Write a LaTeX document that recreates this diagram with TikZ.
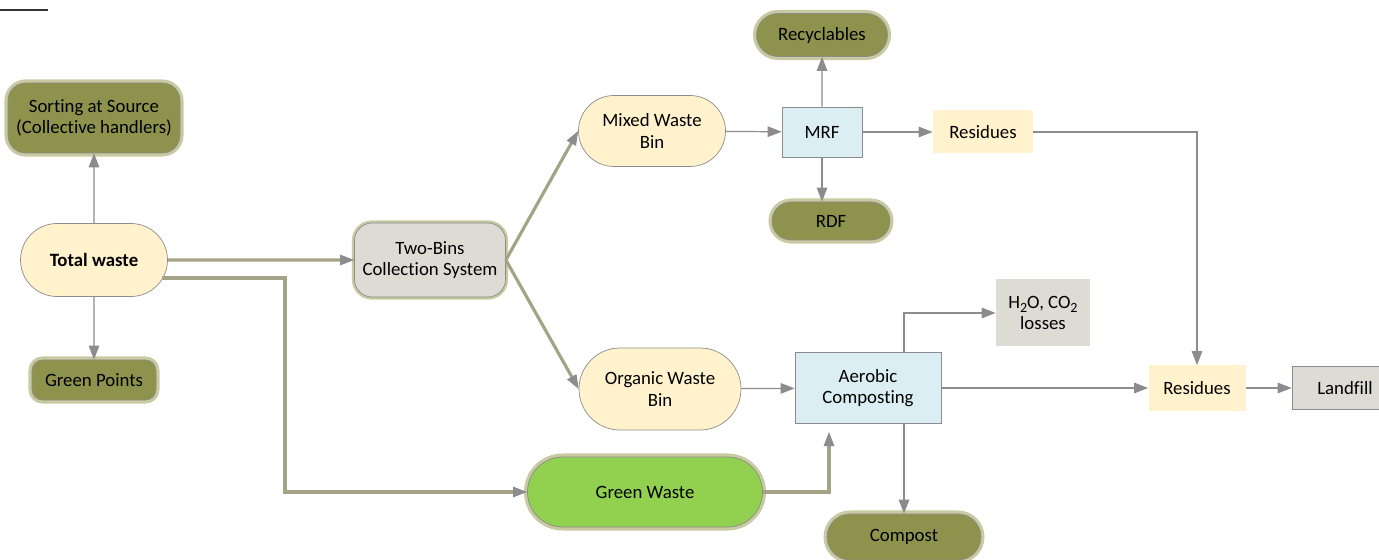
\documentclass[tikz,border=0pt]{standalone}
\usepackage{fontspec}
\setmainfont[Ligatures=NoCommon]{Carlito}
\usetikzlibrary{calc, shapes.misc, arrows.meta}

\begin{document}
\begin{tikzpicture}[x=0.02cm, y=-0.02cm, font=\fontsize{10.7}{12.2}\selectfont]
    % One pixel of the layout
    \def\pxu{0.02cm}

    \definecolor{borderColour}{HTML}{8C8C8C}
    \definecolor{glowColour}{HTML}{C9C9A2}
    \definecolor{oliveColour}{HTML}{8D934D}
    \definecolor{binColour}{HTML}{FFF2CC}
    \definecolor{plantColour}{HTML}{DAEEF3}
    \definecolor{greyColour}{HTML}{DCDCD4}
    \definecolor{greenColour}{HTML}{92D050}
    \definecolor{pipeColour}{HTML}{A3A386}

    \tikzset{
        pill/.style={rounded rectangle, draw=borderColour, inner sep=0pt, align=center},
        olive/.style={fill=oliveColour, draw=borderColour, preaction={draw=glowColour, line width=4pt}},
        olivebox/.style={olive, rounded corners=10pt, inner sep=0pt, align=center},
        plantbox/.style={fill=plantColour, draw=borderColour, inner sep=0pt, align=center},
        plainbox/.style={inner sep=0pt, align=center},
        flow/.style={draw=borderColour, line width=0.7pt, -{Triangle[length=8pt, width=6pt]}},
        pipe/.style={draw=pipeColour, line width=1.8pt, -{Triangle[length=8pt, width=6pt, color=borderColour, fill=borderColour, line width=0.5pt]}}
    }

    % Fix the frame
    \useasboundingbox (0,0) rectangle (1379,560);
    \draw[line width=1.2pt, black!80] (0,10) -- (48,10);

    % Collection side
    \node[olivebox, minimum width=172*\pxu, minimum height=70*\pxu] (sorting) at (94,118) {Sorting at Source\\(Collective handlers)};
    \node[pill, fill=binColour, minimum width=147*\pxu, minimum height=73*\pxu] (total) at (94,260) {\textbf{Total waste}};
    \node[olivebox, rounded corners=6pt, minimum width=124*\pxu, minimum height=40*\pxu] (points) at (94,380) {Green Points};
    \node[plainbox, fill=greyColour, draw=borderColour, rounded corners=10pt, minimum width=151*\pxu, minimum height=74*\pxu,
          preaction={draw=glowColour, line width=3pt, rounded corners=10pt}] (twobins) at (430,260) {Two-Bins\\Collection System};

    % Bins
    \node[pill, fill=binColour, minimum width=147*\pxu, minimum height=71*\pxu] (mixed) at (652,131) {Mixed Waste\\Bin};
    \node[pill, fill=binColour, minimum width=162*\pxu, minimum height=82*\pxu] (organic) at (660,389) {Organic Waste\\Bin};
    \node[pill, olive, fill=greenColour, minimum width=235*\pxu, minimum height=70*\pxu] (greenwaste) at (645,492) {Green Waste};

    % Mixed waste treatment
    \node[plantbox, minimum width=80*\pxu, minimum height=50*\pxu] (mrf) at (822,132) {MRF};
    \node[pill, olive, minimum width=131*\pxu, minimum height=43*\pxu] (recyclables) at (822,35) {Recyclables};
    \node[pill, olive, minimum width=118*\pxu, minimum height=38*\pxu] (rdf) at (831,221) {RDF};
    \node[plainbox, fill=binColour, minimum width=100*\pxu, minimum height=43*\pxu] (residuesA) at (983,132) {Residues};

    % Organic waste treatment
    \node[plantbox, minimum width=146*\pxu, minimum height=71*\pxu] (aerobic) at (868,388) {Aerobic\\Composting};
    \node[plainbox, fill=greyColour, minimum width=94*\pxu, minimum height=67*\pxu] (losses) at (1043,313) {H\raisebox{-0.45ex}{\footnotesize 2}O, CO\raisebox{-0.45ex}{\footnotesize 2}\\losses};
    \node[pill, olive, minimum width=154*\pxu, minimum height=46*\pxu] (compost) at (904,537) {Compost};

    % Disposal
    \node[plainbox, fill=binColour, minimum width=97*\pxu, minimum height=45*\pxu] (residuesB) at (1197,388) {Residues};
    \node[plainbox, fill=greyColour, draw=borderColour, minimum width=106*\pxu, minimum height=43*\pxu] (landfill) at (1345,388) {Landfill};

    % Helper points
    \coordinate (totalLow) at (162,278);
    \coordinate (greenIn) at (829,432);
    \coordinate (aerobicTop) at ($(aerobic.north)+(36,0)$);

    % Draw the connectors
    \draw[flow] (total) -- (sorting);
    \draw[flow] (total) -- (points);
    \draw[pipe] (total) -- (twobins);
    \draw[pipe] (totalLow) -| (285,492) -- (greenwaste);
    \draw[pipe] (twobins.east) -- (mixed.west);
    \draw[pipe] (twobins.east) -- (organic.west);
    \draw[pipe] (greenwaste.east) -| (greenIn);

    \draw[flow] (mixed) -- (mrf);
    \draw[flow] (mrf) -- (recyclables);
    \draw[flow] (mrf.south) -- (mrf.south |- rdf.north);
    \draw[flow] (mrf) -- (residuesA);
    \draw[flow] (residuesA.east) -| (residuesB.north);

    \draw[flow] (organic) -- (aerobic);
    \draw[flow] (aerobicTop) |- (losses.west);
    \draw[flow] (aerobic.south -| compost.north) -- (compost.north);
    \draw[flow] (aerobic) -- (residuesB);
    \draw[flow] (residuesB) -- (landfill);

\end{tikzpicture}
\end{document}
